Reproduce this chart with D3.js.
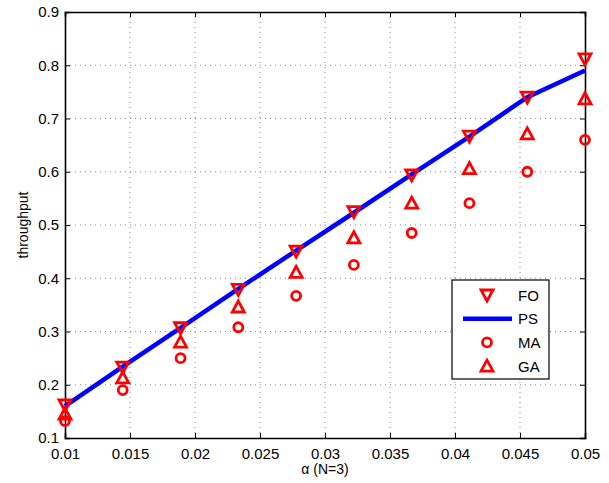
<!DOCTYPE html>
<html>
<head>
	<title>Throughput vs alpha</title>
	<script src="https://d3js.org/d3.v7.min.js"></script>
	<style>
		body { margin: 0; background: #fff; }
		text { font-family: "Liberation Sans", Arial, sans-serif; }
	</style>
</head>
<body>
	<div id="chart"></div>

	<script>
		// Data
		const alpha = [0.01, 0.01444, 0.01889, 0.02333, 0.02778, 0.03222, 0.03667, 0.04111, 0.04556, 0.05];
		const fo = [0.162, 0.233, 0.307, 0.379, 0.451, 0.525, 0.594, 0.667, 0.740, 0.812];
		const ps = [0.160, 0.234, 0.307, 0.380, 0.452, 0.523, 0.595, 0.666, 0.740, 0.790];
		const ma = [0.132, 0.190, 0.250, 0.308, 0.367, 0.425, 0.485, 0.541, 0.600, 0.660];
		const ga = [0.145, 0.213, 0.280, 0.346, 0.411, 0.476, 0.541, 0.606, 0.671, 0.737];
		const xTicks = [0.01, 0.015, 0.02, 0.025, 0.03, 0.035, 0.04, 0.045, 0.05];
		const yTicks = [0.1, 0.2, 0.3, 0.4, 0.5, 0.6, 0.7, 0.8, 0.9];

		const W = 609, H = 483;
		const margin = { top: 12, right: 24, bottom: 45, left: 65 };
		const width = W - margin.left - margin.right;
		const height = H - margin.top - margin.bottom;

		const svg = d3.select("#chart")
			.append("svg")
			.attr("width", W)
			.attr("height", H);

		const g = svg.append("g")
			.attr("transform", `translate(${margin.left},${margin.top})`);

		const x = d3.scaleLinear().domain([0.01, 0.05]).range([0, width]);
		const y = d3.scaleLinear().domain([0.1, 0.9]).range([height, 0]);

		// Dotted grid
		g.append("g").selectAll("line")
			.data(xTicks.slice(1, -1))
			.join("line")
			.attr("x1", d => x(d)).attr("x2", d => x(d))
			.attr("y1", 0).attr("y2", height)
			.attr("stroke", "#888").attr("stroke-width", 1)
			.attr("stroke-dasharray", "1,4");
		g.append("g").selectAll("line")
			.data(yTicks.slice(1, -1))
			.join("line")
			.attr("y1", d => y(d)).attr("y2", d => y(d))
			.attr("x1", 0).attr("x2", width)
			.attr("stroke", "#888").attr("stroke-width", 1)
			.attr("stroke-dasharray", "1,4");

		// Axes (MATLAB style: inward ticks, box on)
		const axB = g.append("g")
			.attr("transform", `translate(0,${height})`)
			.call(d3.axisBottom(x).tickValues(xTicks).tickSize(-5).tickPadding(10).tickFormat(d => String(+d.toFixed(3))));
		const axT = g.append("g")
			.call(d3.axisTop(x).tickValues(xTicks).tickSize(-5).tickFormat(""));
		const axL = g.append("g")
			.call(d3.axisLeft(y).tickValues(yTicks).tickSize(-5).tickPadding(6).tickFormat(d => String(+d.toFixed(1))));
		const axR = g.append("g")
			.attr("transform", `translate(${width},0)`)
			.call(d3.axisRight(y).tickValues(yTicks).tickSize(-5).tickFormat(""));

		[axB, axT, axL, axR].forEach(a => {
			a.select(".domain").attr("stroke", "#000").attr("stroke-width", 1.6);
			a.selectAll(".tick line").attr("stroke", "#000").attr("stroke-width", 1);
			a.selectAll("text").attr("fill", "#000").style("font-size", "15px")
				.style("font-family", "'Liberation Sans', Arial, sans-serif");
		});

		// Axis labels
		svg.append("text")
			.attr("x", margin.left + width / 2)
			.attr("y", 474)
			.attr("text-anchor", "middle")
			.style("font-size", "14px")
			.text("α (N=3)");
		svg.append("text")
			.attr("transform", `translate(28,${margin.top + height / 2}) rotate(-90)`)
			.attr("text-anchor", "middle")
			.style("font-size", "14px")
			.text("throughput");

		const red = "#ff0000";
		const triDown = "M-6,-5 L6,-5 L0,6 Z";
		const triUp = "M-6,5 L6,5 L0,-6 Z";
		const mw = 2.8;

		// PS line
		g.append("path")
			.datum(alpha.map((a, i) => [a, ps[i]]))
			.attr("fill", "none")
			.attr("stroke", "#0000ff")
			.attr("stroke-width", 4.5)
			.attr("d", d3.line().x(d => x(d[0])).y(d => y(d[1])));

		// FO markers
		g.append("g").selectAll("path")
			.data(alpha.map((a, i) => [a, fo[i]]))
			.join("path")
			.attr("d", triDown)
			.attr("transform", d => `translate(${x(d[0])},${y(d[1])})`)
			.attr("fill", "none").attr("stroke", red).attr("stroke-width", mw);

		// MA markers
		g.append("g").selectAll("circle")
			.data(alpha.map((a, i) => [a, ma[i]]))
			.join("circle")
			.attr("cx", d => x(d[0])).attr("cy", d => y(d[1])).attr("r", 4.5)
			.attr("fill", "none").attr("stroke", red).attr("stroke-width", mw);

		// GA markers
		g.append("g").selectAll("path")
			.data(alpha.map((a, i) => [a, ga[i]]))
			.join("path")
			.attr("d", triUp)
			.attr("transform", d => `translate(${x(d[0])},${y(d[1])})`)
			.attr("fill", "none").attr("stroke", red).attr("stroke-width", mw);

		// Legend
		const lg = svg.append("g");
		lg.append("rect")
			.attr("x", 452).attr("y", 280).attr("width", 97).attr("height", 99)
			.attr("fill", "#fff").attr("stroke", "#000").attr("stroke-width", 1.2);
		const entries = ["FO", "PS", "MA", "GA"];
		entries.forEach((name, i) => {
			const cy = 295 + i * 23.7;
			if (name === "PS") {
				lg.append("line").attr("x1", 463).attr("x2", 512).attr("y1", cy).attr("y2", cy)
					.attr("stroke", "#0000ff").attr("stroke-width", 4.5);
			} else if (name === "MA") {
				lg.append("circle").attr("cx", 487).attr("cy", cy).attr("r", 4.5)
					.attr("fill", "none").attr("stroke", red).attr("stroke-width", mw);
			} else {
				lg.append("path").attr("d", name === "FO" ? triDown : triUp)
					.attr("transform", `translate(487,${cy})`)
					.attr("fill", "none").attr("stroke", red).attr("stroke-width", mw);
			}
			lg.append("text").attr("x", 518).attr("y", cy + 5.5)
				.style("font-size", "15px").text(name);
		});
	</script>
</body>
</html>
